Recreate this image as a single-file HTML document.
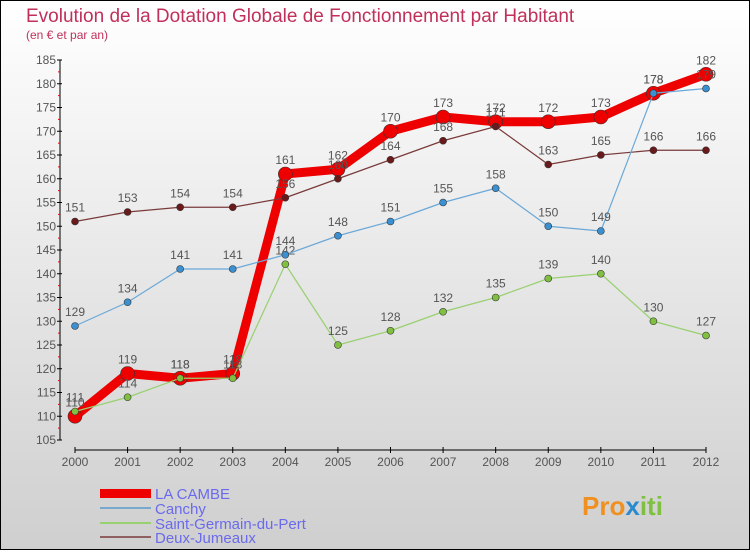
<!DOCTYPE html>
<html><head><meta charset="utf-8"><style>
body{margin:0;}
#c{width:750px;height:550px;position:relative;}
svg text{font-family:"Liberation Sans",sans-serif;}
</style></head><body>
<div id="c">
<svg id="s" width="750" height="550" xmlns="http://www.w3.org/2000/svg">
<defs><linearGradient id="bg" x1="0" y1="0" x2="0" y2="1"><stop offset="0" stop-color="#ffffff"/><stop offset="1" stop-color="#cfcfcf"/></linearGradient></defs>
<rect x="0.5" y="0.5" width="749" height="549" fill="url(#bg)" stroke="#000"/>
<text x="26" y="22" font-size="19" fill="#c0305a">Evolution de la Dotation Globale de Fonctionnement par Habitant</text>
<text x="26" y="39" font-size="12" fill="#c0305a">(en € et par an)</text>
<g id="axes"></g><g id="series"></g>
<g>
<rect x="100" y="489" width="51" height="9" fill="#e00"/>
<text x="155" y="499" font-size="15" fill="#6a6aee">LA CAMBE</text>
<rect x="100" y="507" width="51" height="2" fill="#78a8cc"/>
<text x="155" y="514" font-size="15" fill="#6a6aee">Canchy</text>
<rect x="100" y="522" width="51" height="2" fill="#99d070"/>
<text x="155" y="529" font-size="15" fill="#6a6aee">Saint-Germain-du-Pert</text>
<rect x="100" y="536" width="51" height="2" fill="#906060"/>
<text x="155" y="543" font-size="15" fill="#6a6aee">Deux-Jumeaux</text>
</g>
<text x="582" y="515" font-size="26" font-weight="bold" fill="#f09020">Pro<tspan fill="#2a8ad0">x</tspan><tspan fill="#80c040">iti</tspan></text>
</svg></div>
<script>
const years=[2000,2001,2002,2003,2004,2005,2006,2007,2008,2009,2010,2011,2012];
const laCambe=[110,119,118,119,161,162,170,173,172,172,173,178,182];
const canchy=[129,134,141,141,144,148,151,155,158,150,149,178,179];
const saintGermain=[111,114,118,118,142,125,128,132,135,139,140,130,127];
const deuxJumeaux=[151,153,154,154,156,160,164,168,171,163,165,166,166];
const yTicks=[105,110,115,120,125,130,135,140,145,150,155,160,165,170,175,180,185];
const NS="http://www.w3.org/2000/svg";
const x=i=>75+i*(706-75)/(years.length-1);
const y=v=>440-(v-105)*(380/80);
function mk(tag,at,parent){const e=document.createElementNS(NS,tag);for(const k in at)e.setAttribute(k,at[k]);parent.appendChild(e);return e;}
const ax=document.getElementById('axes');
let yl=mk('line',{x1:60,y1:y(185),x2:60,y2:y(105),stroke:'#000'},ax);


yTicks.forEach((t,k)=>{const g=mk('g',{},ax);


mk('line',{x1:57,x2:62,y1:y(t),y2:y(t),stroke:'#000'},g);
if(k<yTicks.length-1)mk('line',{x1:58,x2:60,y1:y(t+2.5),y2:y(t+2.5),stroke:'#e00'},g);
const tx=mk('text',{x:56,y:y(t)+4,'text-anchor':'end','font-size':12,fill:'#555'},g);tx.textContent=t;});
let xl=mk('line',{x1:75,y1:450,x2:706,y2:450,stroke:'#000'},ax);


years.forEach((yr,i)=>{const g=mk('g',{},ax);


mk('line',{x1:x(i),x2:x(i),y1:447,y2:453,stroke:'#000'},g);
const tx=mk('text',{x:x(i),y:466,'text-anchor':'middle','font-size':12,fill:'#555'},g);tx.textContent=yr;});
const sg=document.getElementById('series');
function draw(name,data,color,w,r,dot){const g=mk('g',{},sg);


const p=mk('polyline',{points:data.map((v,i)=>x(i)+','+y(v)).join(' '),fill:'none',stroke:color,'stroke-width':w,'stroke-linejoin':'round'},g);


data.forEach((v,i)=>{const c=mk('circle',{cx:x(i),cy:y(v),r:r,fill:dot,stroke:'#333','stroke-width':0.6},g);


const t=mk('text',{x:x(i),y:y(v)-10,'text-anchor':'middle','font-size':12,fill:'#555'},g);t.textContent=v;});}
draw('la-cambe',laCambe,'#ee0000',9,7,'#ee0000');
draw('deux-jumeaux',deuxJumeaux,'#7a3a3a',1.2,3.5,'#6a1a1a');
draw('saint-germain',saintGermain,'#99d070',1.2,3.5,'#80c040');
draw('canchy',canchy,'#6aa8d8',1.2,3.5,'#3a90d0');
</script>
</body></html>
